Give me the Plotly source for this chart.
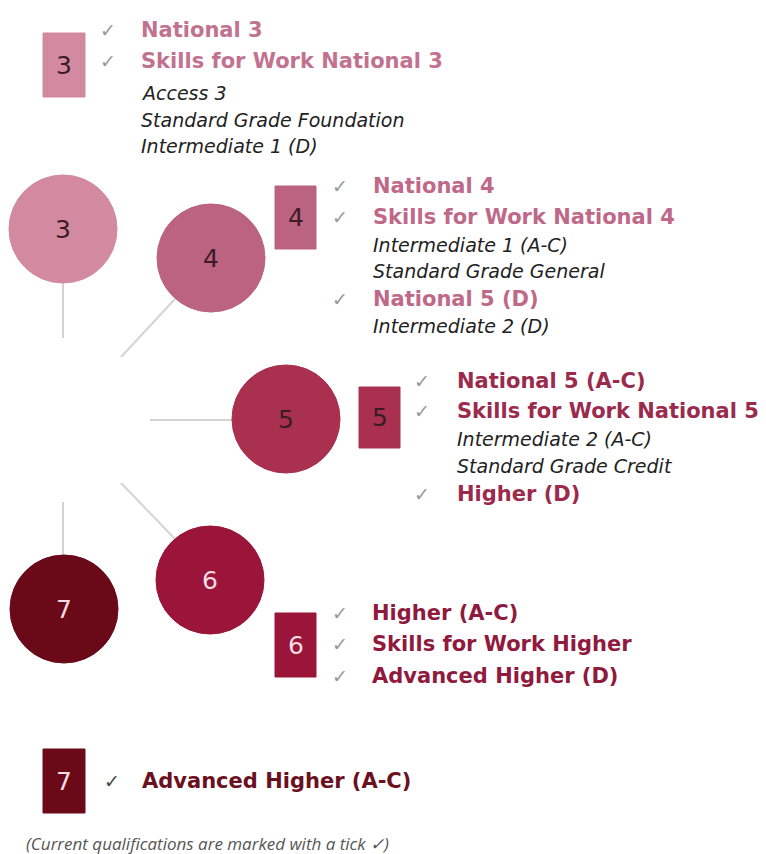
import plotly.graph_objects as go

# ---------------- data ----------------
levels = [3, 4, 5, 6, 7]
level_fill = ["#d38aa1", "#bb6381", "#a9314f", "#9a1539", "#6a0a18"]
level_text_color = ["#c2728f", "#c06888", "#9b2a4c", "#8f1a3e", "#6b1020"]
number_color = ["#3b1c25", "#3b1c25", "#3b1c25", "#f6dde4", "#f6dde4"]

quals_3 = ["National 3", "Skills for Work National 3", "Access 3", "Standard Grade Foundation", "Intermediate 1 (D)"]
current_3 = [True, True, False, False, False]
quals_4 = ["National 4", "Skills for Work National 4", "Intermediate 1 (A-C)", "Standard Grade General", "National 5 (D)", "Intermediate 2 (D)"]
current_4 = [True, True, False, False, True, False]
quals_5 = ["National 5 (A-C)", "Skills for Work National 5", "Intermediate 2 (A-C)", "Standard Grade Credit", "Higher (D)"]
current_5 = [True, True, False, False, True]
quals_6 = ["Higher (A-C)", "Skills for Work Higher", "Advanced Higher (D)"]
current_6 = [True, True, True]
quals_7 = ["Advanced Higher (A-C)"]
current_7 = [True]
footnote = "(Current qualifications are marked with a tick ✓)"

# ---------------- layout (pixel positions) ----------------
W, H = 766, 854
circle_pos = [(63, 229), (211, 258), (286, 419), (210, 580), (64, 609)]
circle_r = 54
box_pos = [(43, 33, 85, 97), (275, 186, 316, 249), (359, 387, 400, 448), (275, 613, 316, 677), (43, 749, 85, 813)]
list_origin = [(108, 139), (340, 371), (422, 455), (340, 370), (112, 140)]
list_rows = [
    [30, 61, 93, 120, 146],
    [186, 217, 245, 271, 299, 326],
    [381, 411, 439, 466, 494],
    [613, 644, 676],
    [781],
]
connectors = [
    ((63, 283), (63, 338)),
    ((175, 299), (121, 357)),
    ((150, 420), (233, 420)),
    ((121, 483), (177, 541)),
    ((63, 502), (63, 555)),
]

TEXT_FONT = "DejaVu Sans, Liberation Sans, sans-serif"
fig = go.Figure()

# connector lines
for (x0, y0), (x1, y1) in connectors:
    fig.add_trace(go.Scatter(x=[x0, x1], y=[y0, y1], mode="lines",
                             line=dict(color="#d4d4d4", width=2), hoverinfo="skip", showlegend=False))

shapes = []
annotations = []
# circles
for i, lv in enumerate(levels):
    cx, cy = circle_pos[i]
    shapes.append(dict(type="circle", xref="x", yref="y", x0=cx - circle_r, x1=cx + circle_r,
                       y0=cy - circle_r, y1=cy + circle_r, fillcolor=level_fill[i],
                       line=dict(color=level_fill[i], width=1), layer="above"))
    annotations.append(dict(x=cx, y=cy, text=str(lv), showarrow=False, xanchor="center", yanchor="middle",
                            font=dict(family=TEXT_FONT, size=25, color=number_color[i])))
# boxes
for i, lv in enumerate(levels):
    x0, y0, x1, y1 = box_pos[i]
    shapes.append(dict(type="rect", xref="x", yref="y", x0=x0, x1=x1, y0=y0, y1=y1,
                       fillcolor=level_fill[i], line=dict(color=level_fill[i], width=1), layer="above"))
    annotations.append(dict(x=(x0 + x1) / 2, y=(y0 + y1) / 2, text=str(lv), showarrow=False,
                            xanchor="center", yanchor="middle",
                            font=dict(family=TEXT_FONT, size=25, color=number_color[i])))

# qualification lists
all_quals = [quals_3, quals_4, quals_5, quals_6, quals_7]
all_current = [current_3, current_4, current_5, current_6, current_7]
for i in range(len(levels)):
    tick_x, text_x = list_origin[i]
    for q, cur, y in zip(all_quals[i], all_current[i], list_rows[i]):
        if cur:
            annotations.append(dict(x=tick_x, y=y, text="✓", showarrow=False, xanchor="center",
                                    yanchor="middle",
                                    font=dict(family="DejaVu Sans", size=19,
                                              color="#4a4a4a" if i == 4 else "#9a9a9a")))
            annotations.append(dict(x=text_x, y=y, text="<b>" + q + "</b>", showarrow=False,
                                    xanchor="left", yanchor="middle",
                                    font=dict(family=TEXT_FONT, size=21, color=level_text_color[i])))
        else:
            annotations.append(dict(x=text_x, y=y, text="<i>" + q + "</i>", showarrow=False,
                                    xanchor="left", yanchor="middle",
                                    font=dict(family=TEXT_FONT, size=19, color="#222222")))

annotations.append(dict(x=24, y=843, text="<i>" + footnote + "</i>", showarrow=False, xanchor="left",
                        yanchor="middle", font=dict(family="Open Sans, sans-serif", size=17, color="#555555")))

fig.update_layout(
    width=W, height=H, margin=dict(l=0, r=0, t=0, b=0),
    paper_bgcolor="white", plot_bgcolor="white",
    xaxis=dict(range=[0, W], visible=False, fixedrange=True),
    yaxis=dict(range=[H, 0], visible=False, fixedrange=True),
    shapes=shapes, annotations=annotations, showlegend=False,
)
fig.write_html("out.html", config={"displayModeBar": False},
               post_script="document.body.style.margin='0';document.body.style.overflow='hidden';")
